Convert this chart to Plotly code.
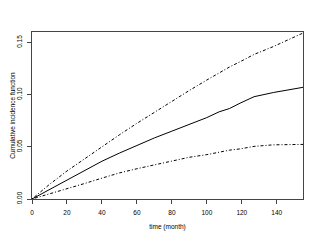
import plotly.graph_objects as go

months = [0, 10, 20, 30, 40, 50, 60, 70, 80, 90, 100, 107, 113, 119, 127, 138, 146, 155]
cif = [0, 0.0090, 0.0186, 0.0275, 0.0362, 0.0440, 0.0515, 0.0585, 0.0650, 0.0715, 0.0780, 0.0835, 0.0867, 0.0918, 0.0980, 0.1020, 0.1045, 0.1070]
upper = [0, 0.0140, 0.0268, 0.0385, 0.0500, 0.0615, 0.0725, 0.0830, 0.0940, 0.1040, 0.1140, 0.1210, 0.1265, 0.1315, 0.1385, 0.1460, 0.1520, 0.1590]
lower = [0, 0.0048, 0.0096, 0.0148, 0.0200, 0.0250, 0.0290, 0.0325, 0.0362, 0.0400, 0.0425, 0.0449, 0.0468, 0.0480, 0.0504, 0.0519, 0.0521, 0.0523]

x_ticks = [0, 20, 40, 60, 80, 100, 120, 140]
y_ticks = [0.00, 0.05, 0.10, 0.15]

font = "Liberation Sans, Arial, sans-serif"
fig = go.Figure()
fig.add_trace(go.Scatter(x=months, y=upper, mode="lines",
                         line=dict(color="black", width=1, dash="1px,2px,3px,2px")))
fig.add_trace(go.Scatter(x=months, y=cif, mode="lines",
                         line=dict(color="black", width=1)))
fig.add_trace(go.Scatter(x=months, y=lower, mode="lines",
                         line=dict(color="black", width=1, dash="1px,2px,3px,2px")))

fig.update_layout(
    width=320, height=240,
    margin=dict(l=32, r=17, t=32, b=41),
    paper_bgcolor="white", plot_bgcolor="white",
    showlegend=False,
    font=dict(family=font, size=6.5, color="black"),
    xaxis=dict(range=[0, 155], tickvals=x_ticks, ticks="outside", ticklen=4,
               tickcolor="#444", showline=True, linecolor="#444", linewidth=1,
               mirror=True, showgrid=False, zeroline=False, automargin=False,
               ticklabelstandoff=3,
               title=dict(text="time (month)", font=dict(size=6.5), standoff=9)),
    yaxis=dict(range=[0, 0.16], tickvals=y_ticks, tickformat=".2f", tickangle=-90,
               ticks="outside", ticklen=4, tickcolor="#444", showline=True,
               linecolor="#444", linewidth=1, mirror=True, showgrid=False,
               zeroline=False, automargin=False, ticklabelstandoff=2,
               title=dict(text="Cumulative incidence function", font=dict(size=6.5), standoff=0)),
)
fig.write_html("out.html", config={"displayModeBar": False},
               post_script="document.body.style.margin='0';")
